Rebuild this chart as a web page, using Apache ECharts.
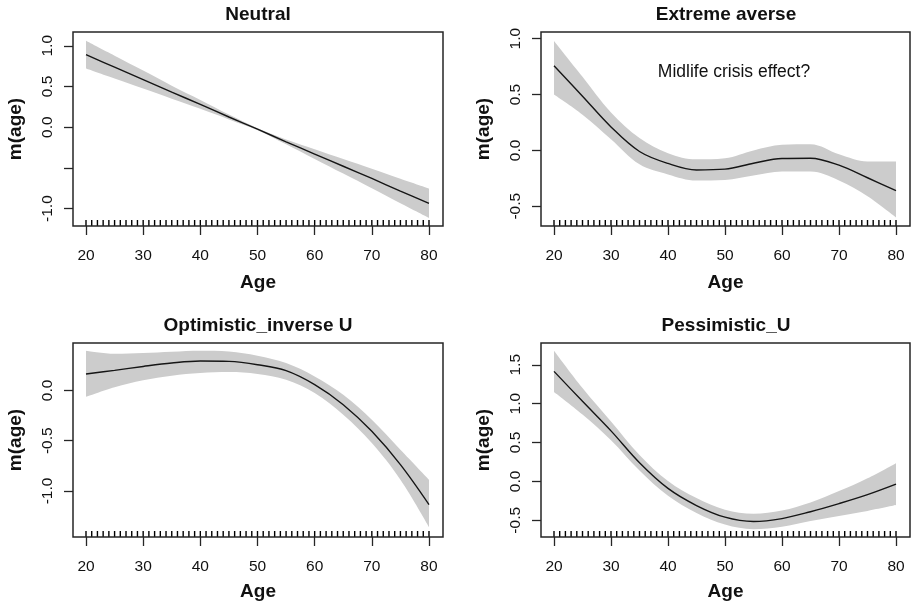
<!DOCTYPE html>
<html>
<head>
<meta charset="utf-8">
<script src="https://cdn.jsdelivr.net/npm/echarts@6/dist/echarts.min.js"></script>
<style>
  html, body { margin: 0; padding: 0; background: #ffffff; }
  #chart { width: 911px; height: 606px; }
</style>
</head>
<body>
<div id="chart"></div>
<script>
// Smooth age effects m(age) with pointwise confidence bands, one panel per profile.
const ages = [20, 25, 30, 35, 40, 45, 50, 55, 60, 65, 70, 75, 80];

// Observed ages (rug along the bottom of each panel)
const rugAges = [20, 21, 22, 23, 24, 25, 26, 27, 28, 29, 30, 31, 32, 33, 34, 35, 36, 37, 38, 39,
                 40, 41, 42, 43, 44, 45, 46, 47, 48, 49, 50, 51, 52, 53, 54, 55, 56, 57, 58, 59,
                 60, 61, 62, 63, 64, 65, 66, 67, 68, 69, 70, 71, 72, 73, 74, 75, 76, 77, 78, 79, 80];

const xTicks = [20, 30, 40, 50, 60, 70, 80];

// Neutral
const neutralFit   = [0.89, 0.737, 0.585, 0.43, 0.28, 0.125, -0.025, -0.18, -0.33, -0.48, -0.63, -0.785, -0.935];
const neutralUpper = [1.06, 0.877, 0.695, 0.51, 0.335, 0.155, -0.013, -0.15, -0.27, -0.39, -0.51, -0.635, -0.755];
const neutralLower = [0.72, 0.597, 0.475, 0.35, 0.225, 0.095, -0.037, -0.21, -0.39, -0.57, -0.75, -0.935, -1.115];

// Extreme averse
const averseFit   = [0.757, 0.485, 0.21, -0.01, -0.117, -0.175, -0.168, -0.115, -0.072, -0.07, -0.132, -0.245, -0.36];
const averseUpper = [0.98, 0.66, 0.34, 0.11, -0.025, -0.08, -0.07, 0.0, 0.05, 0.055, -0.035, -0.10, -0.10];
const averseLower = [0.50, 0.32, 0.10, -0.125, -0.215, -0.27, -0.265, -0.225, -0.19, -0.19, -0.27, -0.41, -0.60];

// Optimistic_inverse U
const optimFit   = [0.163, 0.199, 0.238, 0.272, 0.292, 0.288, 0.255, 0.196, 0.057, -0.142, -0.407, -0.738, -1.135];
const optimUpper = [0.394, 0.364, 0.371, 0.384, 0.394, 0.387, 0.345, 0.272, 0.139, -0.043, -0.291, -0.589, -0.887];
const optimLower = [-0.066, 0.03, 0.10, 0.146, 0.172, 0.182, 0.163, 0.106, -0.026, -0.241, -0.523, -0.887, -1.357];

// Pessimistic_U
const pessFit   = [1.415, 1.03, 0.65, 0.24, -0.09, -0.31, -0.46, -0.515, -0.478, -0.39, -0.285, -0.17, -0.035];
const pessUpper = [1.68, 1.20, 0.77, 0.34, 0.005, -0.215, -0.365, -0.415, -0.373, -0.27, -0.125, 0.04, 0.235];
const pessLower = [1.15, 0.86, 0.53, 0.14, -0.185, -0.405, -0.555, -0.615, -0.583, -0.51, -0.445, -0.38, -0.305];

const panelTitles = ['Neutral', 'Extreme averse', 'Optimistic_inverse U', 'Pessimistic_U'];
const yTickValues  = [[-1, -0.5, 0, 0.5, 1], [-0.5, 0, 0.5, 1], [-1, -0.5, 0], [-0.5, 0, 0.5, 1, 1.5]];
const yLabelValues = [[-1, 0, 0.5, 1], [-0.5, 0, 0.5, 1], [-1, -0.5, 0], [-0.5, 0, 0.5, 1, 1.5]];
const yRanges = [[-1.214, 1.169], [-0.677, 1.06], [-1.457, 0.471], [-0.715, 1.78]];
// x extents: left column 343 px per 60 years, right column 342 px per 60 years
const xRanges = [[17.726, 82.450], [17.719, 82.456], [17.726, 82.450], [17.719, 82.456]];
const annotationText = 'Midlife crisis effect?';

const fits   = [neutralFit, averseFit, optimFit, pessFit];
const uppers = [neutralUpper, averseUpper, optimUpper, pessUpper];
const lowers = [neutralLower, averseLower, optimLower, pessLower];

// Layout
const FONT = '"Liberation Sans", Arial, Helvetica, sans-serif';
const INK = '#111111';
const BOX = '#262626';
const BAND = '#cccccc';
const gridRects = [
  { left: 73,  top: 32,  width: 370, height: 194 },
  { left: 541, top: 32,  width: 369, height: 194 },
  { left: 73,  top: 343, width: 370, height: 194 },
  { left: 541, top: 343, width: 369, height: 194 }
];
const titleTops = [5, 5, 316, 316];
const xNameGaps = [47, 47, 45, 45];

const pairs = (ys) => ages.map((a, i) => [a, ys[i]]);

const grid = gridRects.map((r) => ({
  left: r.left, top: r.top, width: r.width, height: r.height,
  show: true, z: 5,
  borderColor: BOX, borderWidth: 1.5,
  backgroundColor: 'transparent',
  containLabel: false
}));

const xAxis = gridRects.map((r, i) => ({
  type: 'value', gridIndex: i,
  min: xRanges[i][0], max: xRanges[i][1],
  name: 'Age', nameLocation: 'middle', nameGap: xNameGaps[i],
  nameTextStyle: { fontFamily: FONT, fontSize: 19, fontWeight: 'bold', color: INK },
  axisLine: { show: false, onZero: false },
  axisTick: { show: true, customValues: xTicks, length: 9, lineStyle: { color: BOX, width: 1.3 } },
  axisLabel: { customValues: xTicks, margin: 22, fontFamily: FONT, fontSize: 15.5, color: INK,
               formatter: (v) => String(Math.round(v)) },
  splitLine: { show: false }
}));

const yAxis = gridRects.map((r, i) => ({
  type: 'value', gridIndex: i,
  min: yRanges[i][0], max: yRanges[i][1],
  name: 'm(age)', nameLocation: 'middle', nameGap: 48,
  nameTextStyle: { fontFamily: FONT, fontSize: 19, fontWeight: 'bold', color: INK },
  axisLine: { show: false, onZero: false },
  axisTick: { show: true, customValues: yTickValues[i], length: 9, lineStyle: { color: BOX, width: 1.3 } },
  axisLabel: { customValues: yLabelValues[i], rotate: 90, margin: 17, fontFamily: FONT, fontSize: 15.5,
               color: INK, formatter: (v) => v.toFixed(1) },
  splitLine: { show: false }
}));

const series = [];
for (let i = 0; i < 4; i++) {
  // confidence band: grey fill under the upper limit, masked white under the lower limit
  series.push({
    type: 'line', xAxisIndex: i, yAxisIndex: i, data: pairs(uppers[i]),
    smooth: 0.35, symbol: 'none', silent: true,
    lineStyle: { width: 0, opacity: 0 },
    areaStyle: { color: BAND, opacity: 1, origin: 'start' }
  });
  series.push({
    type: 'line', xAxisIndex: i, yAxisIndex: i, data: pairs(lowers[i]),
    smooth: 0.35, symbol: 'none', silent: true,
    lineStyle: { width: 0, opacity: 0 },
    areaStyle: { color: '#ffffff', opacity: 1, origin: 'start' }
  });
  // fitted smooth
  series.push({
    type: 'line', xAxisIndex: i, yAxisIndex: i, data: pairs(fits[i]),
    smooth: 0.35, symbol: 'none', silent: true,
    lineStyle: { color: '#151515', width: 1.4 }
  });
  // rug of observed ages, standing on the bottom of the panel
  series.push({
    type: 'scatter', xAxisIndex: i, yAxisIndex: i, silent: true, clip: false, z: 4,
    data: rugAges.map((a) => [a, yRanges[i][0]]),
    symbol: 'rect', symbolSize: [1.4, 6], symbolOffset: [0, -3],
    itemStyle: { color: '#000000', opacity: 1 },
    emphasis: { disabled: true }
  });
}

const title = gridRects.map((r, i) => ({
  text: panelTitles[i],
  left: r.left + r.width / 2 + (i % 2 === 1 ? 0.5 : 0),
  top: titleTops[i],
  textAlign: 'center',
  padding: 0,
  textStyle: { fontFamily: FONT, fontSize: 19, fontWeight: 'bold', color: INK }
}));

const chart = echarts.init(document.getElementById('chart'), null, { renderer: 'canvas' });
chart.setOption({
  animation: false,
  backgroundColor: '#ffffff',
  title: title,
  grid: grid,
  xAxis: xAxis,
  yAxis: yAxis,
  series: series,
  graphic: [{
    type: 'text', x: 734, y: 72, z: 10,
    style: { text: annotationText, fontFamily: FONT, fontSize: 17.5, fill: INK,
             align: 'center', verticalAlign: 'middle' }
  }]
});
</script>
</body>
</html>
